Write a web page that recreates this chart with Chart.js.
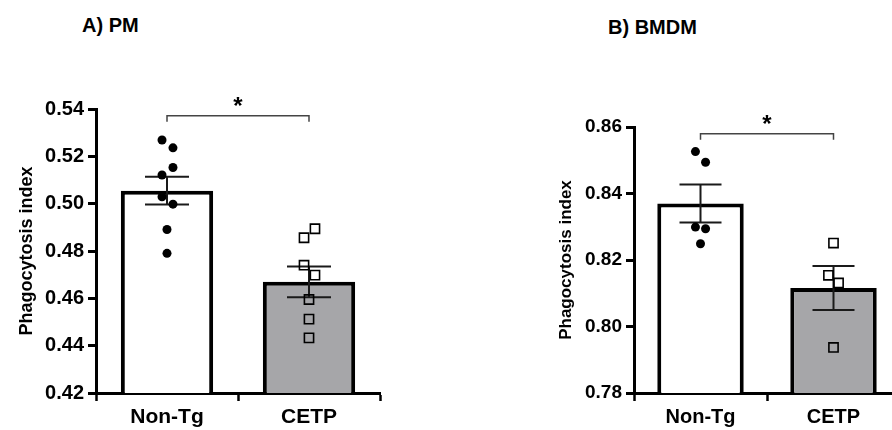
<!DOCTYPE html>
<html>
<head>
<meta charset="utf-8">
<script src="https://cdn.jsdelivr.net/npm/chart.js@4.4.0/dist/chart.umd.min.js"></script>
<style>
  html, body { margin: 0; padding: 0; background: #fff; width: 892px; height: 430px; overflow: hidden; position: relative; }
  .panel-title { position: absolute; font: bold 20px "Liberation Sans", Arial, sans-serif; line-height: 1; color: #000; white-space: nowrap; }
  canvas { position: absolute; top: 0; }
</style>
</head>
<body>
<div class="panel-title" style="left:82px; top:15px;">A) PM</div>
<div class="panel-title" style="left:608px; top:17px;">B) BMDM</div>
<canvas id="chartPM" width="446" height="430" style="left:0;"></canvas>
<canvas id="chartBMDM" width="464" height="430" style="left:446px;"></canvas>
<script>
// --- data ---
const groups = ["Non-Tg", "CETP"];

// A) PM
const pmMean = [0.5055, 0.4670];
const pmSem = [0.0059, 0.0065];
const pmNonTg = [0.5269, 0.5236, 0.5153, 0.5121, 0.5029, 0.4998, 0.4891, 0.4790];
const pmCetp = [0.4894, 0.4856, 0.4740, 0.4698, 0.4595, 0.4512, 0.4433];
const pmNonTgJitter = [-0.035, 0.042, 0.042, -0.035, -0.035, 0.042, 0, 0];
const pmCetpJitter = [0.042, -0.035, -0.035, 0.042, 0, 0, 0];
const pmTicks = [0.42, 0.44, 0.46, 0.48, 0.50, 0.52, 0.54];
const pmBracket = 0.5372;

// B) BMDM
const bmdmMean = [0.8370, 0.8116];
const bmdmSem = [0.0057, 0.0066];
const bmdmNonTg = [0.8526, 0.8494, 0.8299, 0.8294, 0.8249];
const bmdmCetp = [0.8251, 0.8154, 0.8131, 0.7937];
const bmdmNonTgJitter = [-0.038, 0.038, -0.038, 0.038, 0];
const bmdmCetpJitter = [0, -0.038, 0.038, 0];
const bmdmTicks = [0.78, 0.80, 0.82, 0.84, 0.86];
const bmdmBracket = 0.858;

const FONT = "'Liberation Sans', Arial, sans-serif";

// error bars drawn right after the bars, under the points
const errorBars = {
    id: "errorBars",
    afterDatasetDraw(chart, args, opts) {
        if (args.index !== 0) return;
        const ctx = chart.ctx;
        const x = chart.scales.x, y = chart.scales.y;
        ctx.save();
        ctx.strokeStyle = "#1a1a1a";
        ctx.lineWidth = 2;
        opts.mean.forEach((m, i) => {
            const cx = x.getPixelForValue(i);
            const top = y.getPixelForValue(m + opts.sem[i]);
            const bot = y.getPixelForValue(m - opts.sem[i]);
            ctx.beginPath();
            ctx.moveTo(cx, top); ctx.lineTo(cx, bot);
            ctx.moveTo(cx - opts.cap, top); ctx.lineTo(cx + opts.cap, top);
            ctx.moveTo(cx - opts.cap, bot); ctx.lineTo(cx + opts.cap, bot);
            ctx.stroke();
        });
        ctx.restore();
    }
};

// significance bracket with asterisk
const sigBracket = {
    id: "sigBracket",
    afterDraw(chart, args, opts) {
        const ctx = chart.ctx;
        const x = chart.scales.x, y = chart.scales.y;
        const x0 = x.getPixelForValue(0), x1 = x.getPixelForValue(1);
        const yy = y.getPixelForValue(opts.value);
        ctx.save();
        ctx.strokeStyle = "#444";
        ctx.lineWidth = 1.5;
        ctx.beginPath();
        ctx.moveTo(x0, yy + 6); ctx.lineTo(x0, yy);
        ctx.lineTo(x1, yy); ctx.lineTo(x1, yy + 6);
        ctx.stroke();
        ctx.fillStyle = "#000";
        ctx.font = "bold 24px " + FONT;
        ctx.textAlign = "center";
        ctx.textBaseline = "top";
        ctx.fillText("*", (x0 + x1) / 2, yy - 20);
        ctx.restore();
    }
};

function makePanel(id, cfg) {
    const pts = (vals, jit, off) => vals.map((v, i) => ({ x: off + jit[i], y: v }));
    return new Chart(document.getElementById(id), {
        type: "bar",
        data: {
            datasets: [
                {
                    data: cfg.mean.map((m, i) => ({ x: i, y: m })),
                    backgroundColor: ["#ffffff", "#a6a6a9"],
                    borderColor: "#000",
                    borderWidth: 4,
                    barPercentage: 0.65,
                    categoryPercentage: 1,
                    grouped: false,
                    order: 2
                },
                {
                    type: "scatter",
                    data: pts(cfg.nonTg, cfg.nonTgJitter, 0),
                    pointStyle: "circle",
                    pointRadius: 4.5,
                    backgroundColor: "#000",
                    borderColor: "#000",
                    borderWidth: 0,
                    order: 1
                },
                {
                    type: "scatter",
                    data: pts(cfg.cetp, cfg.cetpJitter, 1),
                    pointStyle: "rect",
                    pointRadius: 6.5,
                    backgroundColor: "rgba(0,0,0,0)",
                    borderColor: "#000",
                    borderWidth: 1.6,
                    order: 1
                }
            ]
        },
        options: {
            responsive: false,
            animation: false,
            layout: { padding: cfg.padding },
            plugins: {
                legend: { display: false },
                tooltip: { enabled: false },
                errorBars: { mean: cfg.mean, sem: cfg.sem, cap: cfg.cap },
                sigBracket: { value: cfg.bracket }
            },
            scales: {
                x: {
                    type: "linear",
                    min: -0.5,
                    max: 1.5,
                    offset: false,
                    afterBuildTicks: s => { s.ticks = groups.map((g, i) => ({ value: i })); },
                    grid: { drawOnChartArea: false, tickLength: 8, tickWidth: 2.5, tickColor: "#000" },
                    border: { color: "#000", width: 3 },
                    ticks: { color: "#000", font: { family: FONT, size: cfg.xFont, weight: "bold" }, padding: 4,
                             callback: v => groups[v] },
                    afterFit: s => { s.height = 37; }
                },
                y: {
                    min: cfg.ticks[0],
                    max: cfg.ticks[cfg.ticks.length - 1],
                    afterBuildTicks: s => { s.ticks = cfg.ticks.map(v => ({ value: v })); },
                    grid: { drawOnChartArea: false, tickLength: 8, tickWidth: 3, tickColor: "#000" },
                    border: { color: "#000", width: 3 },
                    ticks: { color: "#000", padding: 4, font: { family: FONT, size: cfg.yFont, weight: "bold" },
                             callback: v => v.toFixed(2) },
                    title: { display: true, text: "Phagocytosis index", color: "#000",
                             font: { family: FONT, size: cfg.titleFont, weight: "bold" }, padding: { top: 6, bottom: 4 } },
                    afterFit: s => { s.width = cfg.yWidth; }
                }
            }
        },
        plugins: [errorBars, sigBracket]
    });
}

makePanel("chartPM", {
    mean: pmMean, sem: pmSem, nonTg: pmNonTg, cetp: pmCetp,
    nonTgJitter: pmNonTgJitter, cetpJitter: pmCetpJitter,
    ticks: pmTicks, bracket: pmBracket,
    padding: { left: 10, top: 109, right: 66, bottom: 0 },
    yWidth: 86, cap: 22, xFont: 21, yFont: 20, titleFont: 18
});

makePanel("chartBMDM", {
    mean: bmdmMean, sem: bmdmSem, nonTg: bmdmNonTg, cetp: bmdmCetp,
    nonTgJitter: bmdmNonTgJitter, cetpJitter: bmdmCetpJitter,
    ticks: bmdmTicks, bracket: bmdmBracket,
    padding: { left: 104, top: 127, right: 10, bottom: 0 },
    yWidth: 84, cap: 21, xFont: 20, yFont: 19, titleFont: 17
});
</script>
</body>
</html>
